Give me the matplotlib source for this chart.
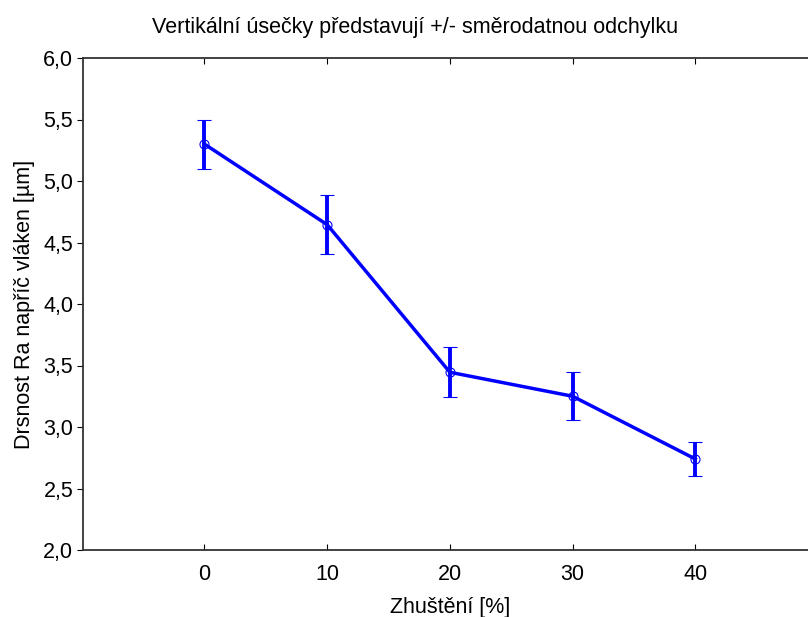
import matplotlib
matplotlib.use("Agg")
import matplotlib.pyplot as plt
from matplotlib.ticker import FuncFormatter

plt.rcParams['font.family'] = ['Liberation Sans', 'DejaVu Sans']

zhusteni = [0, 10, 20, 30, 40]
ra_mean = [5.30, 4.645, 3.445, 3.25, 2.74]
ra_sd = [0.20, 0.24, 0.205, 0.195, 0.135]

fig = plt.figure(figsize=(8.08, 6.17), dpi=100)
ax = fig.add_axes([83/808, 67/617, 735/808, 492/617])

ax.errorbar(zhusteni, ra_mean, yerr=ra_sd, color="#0000ff", lw=2.5,
            elinewidth=2.8, capsize=4.8, capthick=2.5,
            marker="o", ms=6.5, mfc="none", mec="#0000ff", mew=0.8)

ax.set_xlim(-9.9, 50)
ax.set_ylim(2.0, 6.0)
ax.set_xticks(zhusteni)
ax.set_yticks([2.0, 2.5, 3.0, 3.5, 4.0, 4.5, 5.0, 5.5, 6.0])
ax.yaxis.set_major_formatter(FuncFormatter(lambda v, p: f"{v:.1f}".replace(".", ",")))

ax.tick_params(axis="x", direction="in", top=True, length=4, width=0.8, labelsize=15.5, pad=10)
ax.tick_params(axis="y", direction="out", length=4, width=0.8, labelsize=15.5, pad=3)
ax.spines["right"].set_visible(False)
for s in ["left", "bottom", "top"]:
    ax.spines[s].set_linewidth(1.3)
    ax.spines[s].set_color("#333333")

ax.set_xlabel("Zhuštění [%]", fontsize=15.5, labelpad=9)
ax.set_ylabel("Drsnost Ra napříč vláken [µm]", fontsize=15.5, labelpad=6)
fig.text(415/808, 1 - 28/617, "Vertikální úsečky představují +/- směrodatnou odchylku",
         ha="center", va="center", fontsize=15.5)

fig.savefig("out.png", dpi=100)
